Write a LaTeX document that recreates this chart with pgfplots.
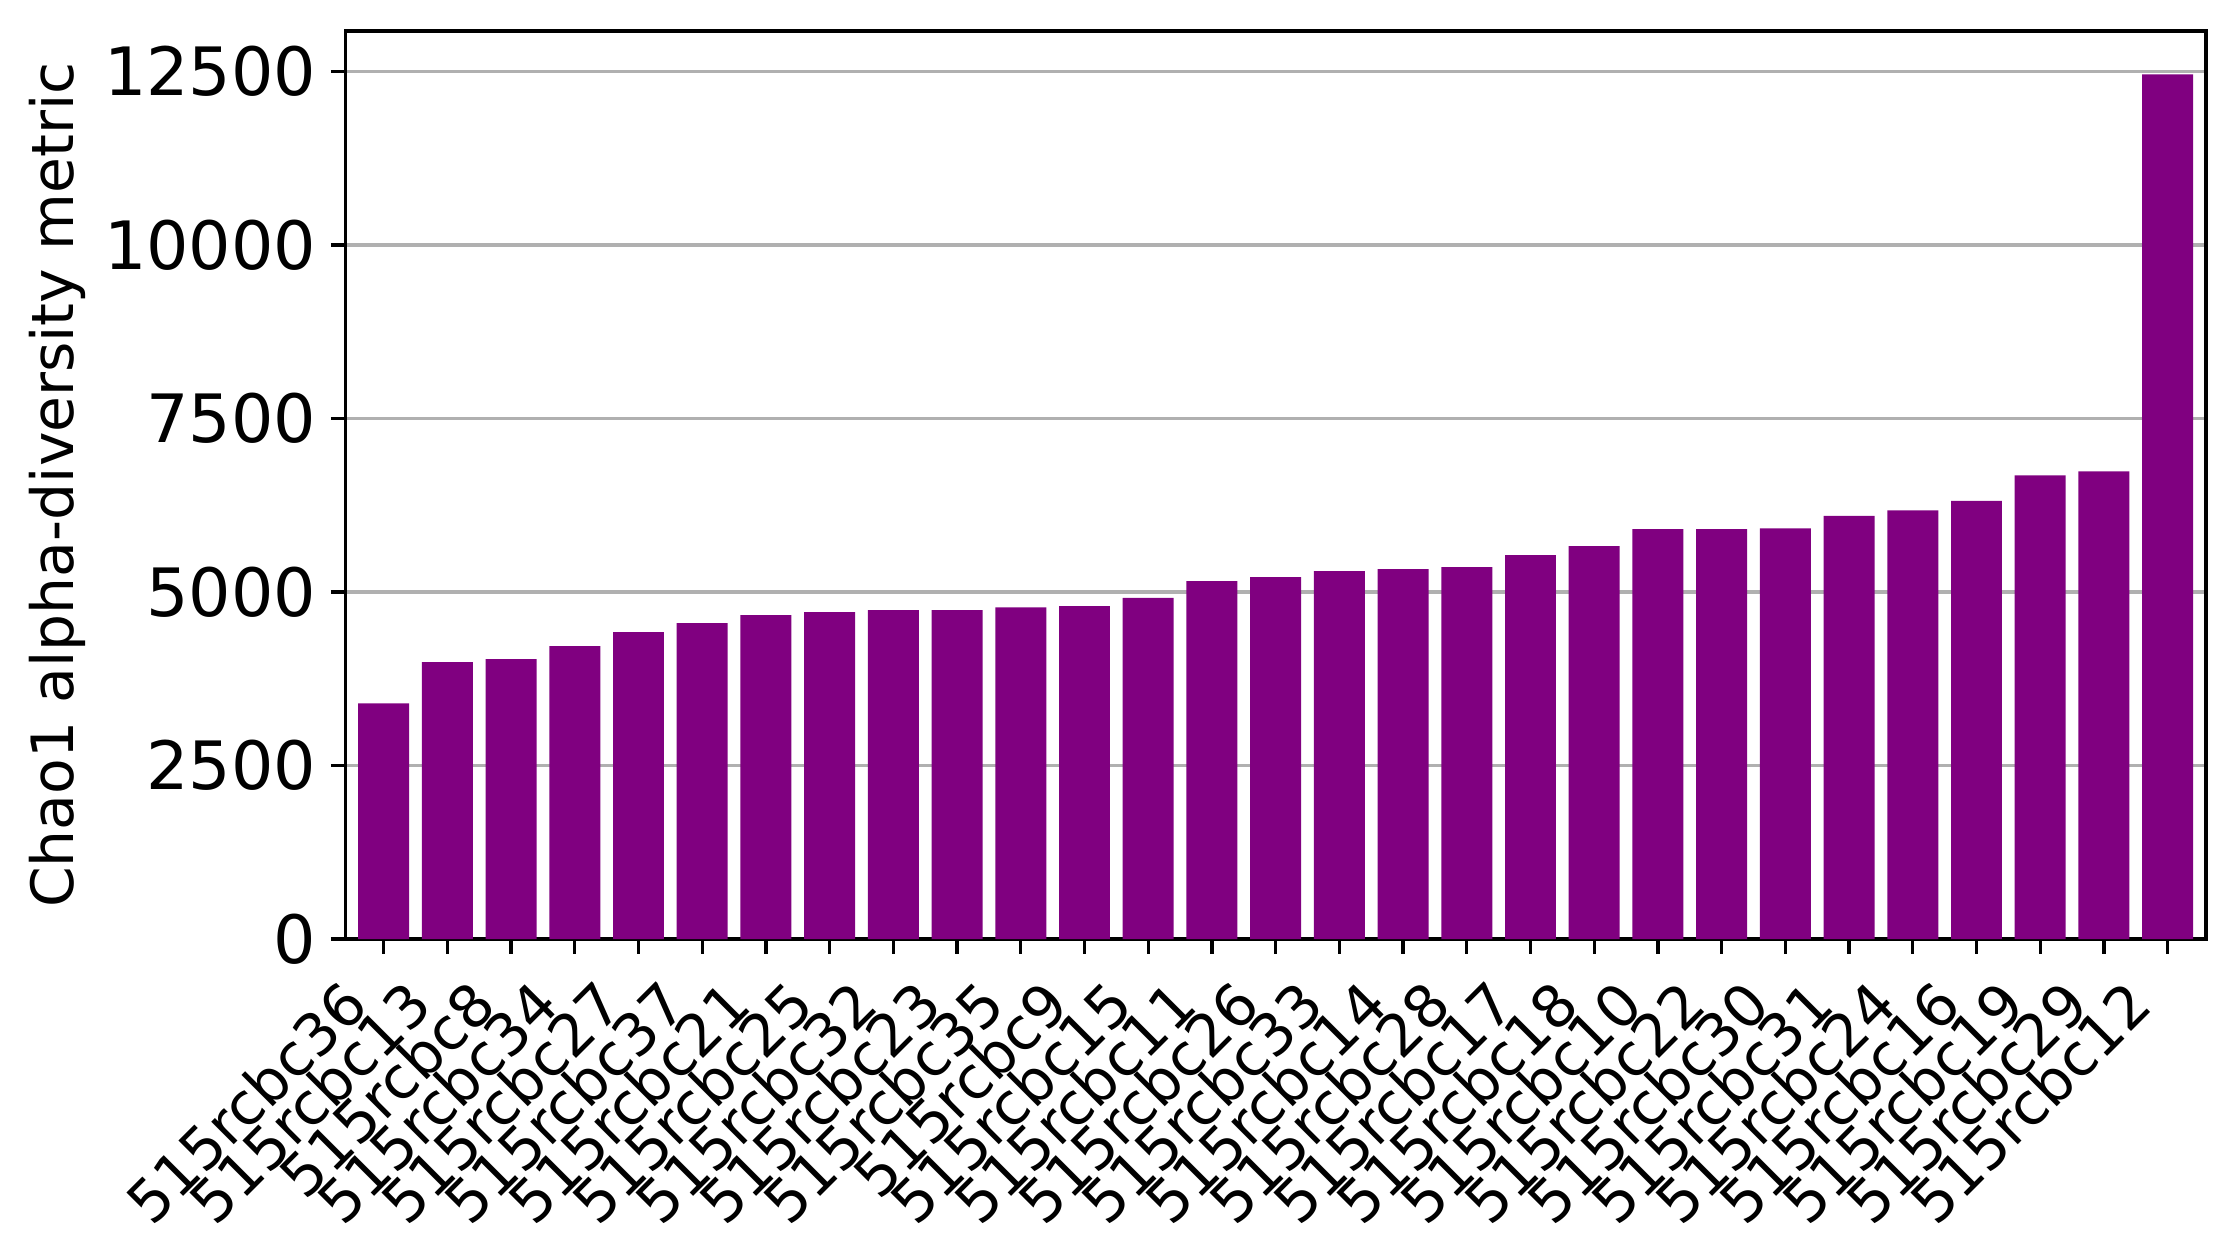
\documentclass[border=0pt]{standalone}
\usepackage{pgfplots}
\pgfplotsset{compat=1.18}
\usepackage{fontspec}
\setmainfont{DejaVu Sans}
\definecolor{barpurple}{HTML}{800080}
\definecolor{gridgray}{HTML}{B0B0B0}
\begin{document}
\begin{tikzpicture}
\begin{axis}[
  at={(0,0)}, anchor=south west,
  scale only axis, width=446.5pt, height=217.9pt,
  xmin=-0.6, xmax=28.6, ymin=0, ymax=13083,
  axis line style={black, line width=0.8pt},
  xtick={0,...,28},
  xticklabels={515rcbc36,515rcbc13,515rcbc8,515rcbc34,515rcbc27,515rcbc37,515rcbc21,515rcbc25,515rcbc32,515rcbc23,515rcbc35,515rcbc9,515rcbc15,515rcbc11,515rcbc26,515rcbc33,515rcbc14,515rcbc28,515rcbc17,515rcbc18,515rcbc10,515rcbc22,515rcbc30,515rcbc31,515rcbc24,515rcbc16,515rcbc19,515rcbc29,515rcbc12},
  ytick={0,2500,5000,7500,10000,12500},
  scaled y ticks=false,
  yticklabel style={font=\fontsize{16}{19}\selectfont, /pgf/number format/fixed, /pgf/number format/1000 sep={}},
  /pgf/number format/assume math mode=true,
  tick align=outside,
  xtick pos=bottom, ytick pos=left,
  major tick length=3.5pt,
  every tick/.style={black, line width=0.8pt},
  xticklabel style={font=\fontsize{14}{17}\selectfont, xshift=-2.9pt, yshift=-13.1pt, rotate=45, anchor=base east, inner sep=0pt},
  ymajorgrids,
  grid style={gridgray, line width=0.8pt},
  ylabel={Chao1 alpha-diversity metric},
  every axis y label/.style={at={(axis description cs:-0.1546,0.5)}, anchor=center, rotate=90, font=\fontsize{14}{17}\selectfont},
]
\addplot[ybar, bar width=0.8, fill=barpurple, draw=none] coordinates {
(0,3396) (1,3988) (2,4032) (3,4220) (4,4422) (5,4552) (6,4668) (7,4711) (8,4740) (9,4740)
(10,4780) (11,4798) (12,4914) (13,5158) (14,5216) (15,5302) (16,5331) (17,5360) (18,5533) (19,5662)
(20,5907) (21,5905) (22,5916) (23,6098) (24,6176) (25,6315) (26,6679) (27,6739) (28,12460)
};
\end{axis}
\pgfresetboundingbox
\path[use as bounding box] (-82.9pt,-76.8pt) rectangle (454.22pt,225.36pt);
\end{tikzpicture}
\end{document}
